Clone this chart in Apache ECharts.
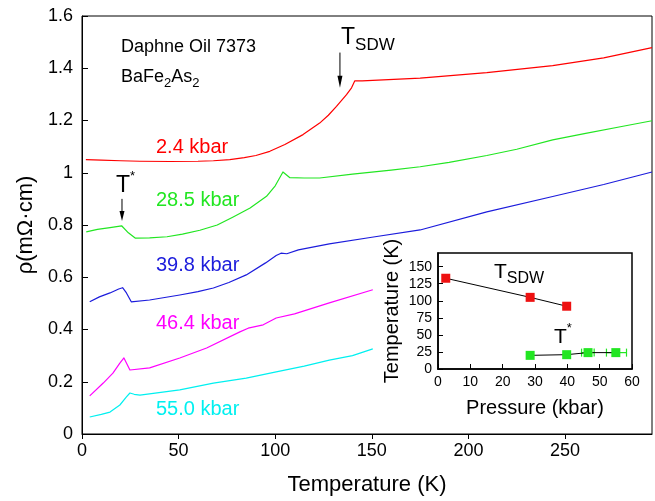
<!DOCTYPE html>
<html>
<head>
<meta charset="utf-8">
<script src="https://cdn.jsdelivr.net/npm/echarts@6/dist/echarts.min.js"></script>
<style>
  html, body { margin: 0; padding: 0; background: #fff; }
  #chart { width: 655px; height: 501px; }
</style>
</head>
<body>
<div id="chart"></div>
<script>
  const FONT = '"Liberation Sans", Arial, sans-serif'

  // resistivity curves, temperature (K) / rho (mOhm cm)
  const tRed = [2, 10, 20, 30, 45.5, 60, 68, 76.5, 84, 90, 97.2, 105, 114.4, 123, 127.5, 131.7, 136.9, 139.5, 141.2, 145, 175, 209.5, 243.6, 270, 295]
  const rRed = [1.05, 1.048, 1.046, 1.044, 1.043, 1.044, 1.046, 1.05, 1.058, 1.066, 1.082, 1.108, 1.146, 1.19, 1.22, 1.254, 1.299, 1.325, 1.352, 1.352, 1.362, 1.383, 1.41, 1.44, 1.479]

  const tGreen = [2.2, 8, 14.5, 20.5, 24, 27.5, 35, 44, 52, 61, 70, 78, 87, 95.5, 100, 104, 107.6, 115, 123, 140, 160, 175, 190, 209.5, 225, 243.6, 260, 280, 295]
  const rGreen = [0.774, 0.783, 0.79, 0.797, 0.77, 0.75, 0.751, 0.755, 0.765, 0.78, 0.8, 0.83, 0.865, 0.91, 0.95, 1.003, 0.981, 0.98, 0.98, 0.995, 1.01, 1.023, 1.04, 1.066, 1.09, 1.126, 1.15, 1.178, 1.199]

  const tBlue = [4, 9, 14.5, 19, 21, 23, 25.5, 35, 50.6, 60, 68, 76, 85, 95, 100.5, 103, 106, 112, 128, 150, 175, 209.5, 243.6, 270, 295]
  const rBlue = [0.506, 0.525, 0.54, 0.555, 0.56, 0.54, 0.506, 0.513, 0.532, 0.545, 0.559, 0.58, 0.609, 0.655, 0.683, 0.692, 0.69, 0.705, 0.728, 0.753, 0.781, 0.85, 0.909, 0.955, 1.003]

  const tMagenta = [4, 11, 16, 19.5, 21.7, 24.8, 35, 50.6, 64.5, 81.7, 86, 93.8, 100.5, 110, 128, 150.5]
  const rMagenta = [0.146, 0.195, 0.233, 0.27, 0.291, 0.245, 0.253, 0.291, 0.329, 0.391, 0.405, 0.418, 0.444, 0.46, 0.502, 0.552]

  const tCyan = [4, 10, 14.5, 19.6, 23, 24.8, 27, 30, 50.6, 68, 85, 100.5, 115, 128, 140, 150.5]
  const rCyan = [0.065, 0.075, 0.084, 0.111, 0.142, 0.157, 0.152, 0.149, 0.169, 0.195, 0.214, 0.238, 0.26, 0.283, 0.3, 0.326]

  const curveLabels = ['2.4 kbar', '28.5 kbar', '39.8 kbar', '46.4 kbar', '55.0 kbar']

  // inset: transition temperatures vs pressure
  const pSdw = [2.4, 28.5, 39.8]
  const tSdw = [133, 105, 92]
  const pStar = [28.5, 39.8, 46.4, 55.0]
  const tStar = [20, 21, 24, 24]
  const pErrLow = [null, null, 44.4, 52.1]
  const pErrHigh = [null, null, 48.3, 58.3]

  // arrow annotations (data coords)
  const arrowSdw = [[133.5, 1.46], [133.5, 1.325]]
  const arrowStar = [[20.7, 0.9], [20.7, 0.815]]

  const RED = '#ff0000'
  const GREEN = '#22e622'
  const BLUE = '#1c1cdc'
  const MAGENTA = '#ff00ff'
  const CYAN = '#00f0f0'

  const zip = (a, b) => a.map((v, i) => [v, b[i]])

  const mainLine = (data, color) => ({
    type: 'line',
    xAxisIndex: 0,
    yAxisIndex: 0,
    data: data,
    showSymbol: false,
    symbol: 'none',
    lineStyle: { width: 1.2, color: color, join: 'round' },
    itemStyle: { color: color },
  })

  const axisText = { color: '#000', fontFamily: FONT }

  const option = {
    animation: false,
    backgroundColor: '#fff',
    grid: [
      { left: 82, right: 3, top: 16, bottom: 67, show: true, borderColor: '#000', borderWidth: 1 },
      { left: 438, top: 253, width: 194, height: 116, show: true, borderColor: '#000', borderWidth: 1.5, backgroundColor: '#fff' },
    ],
    xAxis: [
      {
        type: 'value', gridIndex: 0, min: 0, max: 295, interval: 50,
        name: 'Temperature (K)', nameLocation: 'middle', nameGap: 40,
        nameTextStyle: Object.assign({ fontSize: 22 }, axisText),
        axisLine: { lineStyle: { color: '#000', width: 1 } },
        axisTick: { inside: false, length: 5, lineStyle: { color: '#000' } },
        axisLabel: Object.assign({ fontSize: 18, margin: 8, showMaxLabel: false }, axisText),
        splitLine: { show: false },
      },
      {
        type: 'value', gridIndex: 1, min: 0, max: 60, interval: 10,
        name: 'Pressure (kbar)', nameLocation: 'middle', nameGap: 29,
        nameTextStyle: Object.assign({ fontSize: 20 }, axisText),
        axisLine: { lineStyle: { color: '#000', width: 1.5 } },
        axisTick: { inside: true, length: 5, lineStyle: { color: '#000' } },
        axisLabel: Object.assign({ fontSize: 14, margin: 6 }, axisText),
        splitLine: { show: false },
      },
    ],
    yAxis: [
      {
        type: 'value', gridIndex: 0, min: 0, max: 1.6, interval: 0.2,
        name: 'ρ(mΩ·cm)', nameLocation: 'middle', nameGap: 42,
        nameTextStyle: Object.assign({ fontSize: 22 }, axisText),
        axisLine: { lineStyle: { color: '#000', width: 1 } },
        axisTick: { inside: true, length: 6, lineStyle: { color: '#000' } },
        axisLabel: Object.assign({ fontSize: 18, margin: 9 }, axisText),
        splitLine: { show: false },
      },
      {
        type: 'value', gridIndex: 1, min: 0, max: 170, interval: 25,
        name: 'Temperature (K)', nameLocation: 'middle', nameGap: 36,
        nameTextStyle: Object.assign({ fontSize: 20 }, axisText),
        axisLine: { lineStyle: { color: '#000', width: 1.5 } },
        axisTick: { inside: true, length: 5, lineStyle: { color: '#000' } },
        axisLabel: Object.assign({ fontSize: 14, margin: 6, showMaxLabel: false }, axisText),
        splitLine: { show: false },
      },
    ],
    series: [
      mainLine(zip(tRed, rRed), RED),
      mainLine(zip(tGreen, rGreen), GREEN),
      mainLine(zip(tBlue, rBlue), BLUE),
      mainLine(zip(tMagenta, rMagenta), MAGENTA),
      mainLine(zip(tCyan, rCyan), CYAN),
      {
        // horizontal error bars on T*
        type: 'custom',
        xAxisIndex: 1,
        yAxisIndex: 1,
        data: pStar.map((p, i) => [p, tStar[i], pErrLow[i], pErrHigh[i]]).filter(d => d[2] != null),
        renderItem: (params, api) => {
          const lo = api.coord([api.value(2), api.value(1)])
          const hi = api.coord([api.value(3), api.value(1)])
          const st = { stroke: GREEN, lineWidth: 1.2 }
          return {
            type: 'group',
            children: [
              { type: 'line', shape: { x1: lo[0], y1: lo[1], x2: hi[0], y2: hi[1] }, style: st },
              { type: 'line', shape: { x1: lo[0], y1: lo[1] - 4, x2: lo[0], y2: lo[1] + 4 }, style: st },
              { type: 'line', shape: { x1: hi[0], y1: hi[1] - 4, x2: hi[0], y2: hi[1] + 4 }, style: st },
            ],
          }
        },
        z: 3,
      },
      {
        type: 'line', xAxisIndex: 1, yAxisIndex: 1,
        data: zip(pSdw, tSdw),
        symbol: 'rect', symbolSize: 9,
        lineStyle: { color: '#000', width: 1 },
        itemStyle: { color: '#ee1111' },
        z: 4,
      },
      {
        type: 'line', xAxisIndex: 1, yAxisIndex: 1,
        data: zip(pStar, tStar),
        symbol: 'rect', symbolSize: 9,
        lineStyle: { color: '#000', width: 1 },
        itemStyle: { color: GREEN },
        z: 4,
      },
    ],
  }

  const myChart = echarts.init(document.getElementById('chart'), null, { renderer: 'canvas' })
  myChart.setOption(option)

  // text helpers
  const ctx = document.createElement('canvas').getContext('2d')
  function textRun(x, y, parts, color) {
    const out = []
    for (const [t, size, dy] of parts) {
      out.push({
        type: 'text', x: x, y: y + dy, z: 10,
        style: { text: t, fontSize: size, fontFamily: FONT, fill: color, textAlign: 'left', textVerticalAlign: 'middle' },
      })
      ctx.font = size + 'px ' + FONT
      x += ctx.measureText(t).width
    }
    return out
  }
  function arrow(pts, headLen, headW) {
    const a = myChart.convertToPixel({ gridIndex: 0 }, pts[0])
    const b = myChart.convertToPixel({ gridIndex: 0 }, pts[1])
    return [
      { type: 'line', z: 10, shape: { x1: a[0], y1: a[1], x2: b[0], y2: b[1] - headLen + 2 }, style: { stroke: '#000', lineWidth: 1 } },
      { type: 'polygon', z: 10, shape: { points: [[b[0] - headW / 2, b[1] - headLen], [b[0] + headW / 2, b[1] - headLen], [b[0], b[1]]] }, style: { fill: '#000' } },
    ]
  }

  const labelColors = [RED, GREEN, BLUE, MAGENTA, CYAN]
  const labelY = [147, 200, 265, 323, 409]
  let elements = []
  curveLabels.forEach((s, i) => {
    elements = elements.concat(textRun(156, labelY[i], [[s, 20, 0]], labelColors[i]))
  })
  elements = elements.concat(textRun(121, 47, [['Daphne Oil 7373', 18, 0]], '#000'))
  elements = elements.concat(textRun(121, 77, [['BaFe', 18, 0], ['2', 13, 6], ['As', 18, 0], ['2', 13, 6]], '#000'))
  elements = elements.concat(textRun(341, 38, [['T', 23, 0], ['SDW', 17, 7]], '#000'))
  elements = elements.concat(textRun(116, 186, [['T', 23, 0], ['*', 13, -10]], '#000'))
  elements = elements.concat(textRun(494, 272, [['T', 21, 0], ['SDW', 16, 7]], '#000'))
  elements = elements.concat(textRun(554, 337, [['T', 21, 0], ['*', 13, -9]], '#000'))
  elements = elements.concat(arrow(arrowSdw, 12, 5))
  elements = elements.concat(arrow(arrowStar, 10, 5))

  myChart.setOption({ graphic: elements })
</script>
</body>
</html>
